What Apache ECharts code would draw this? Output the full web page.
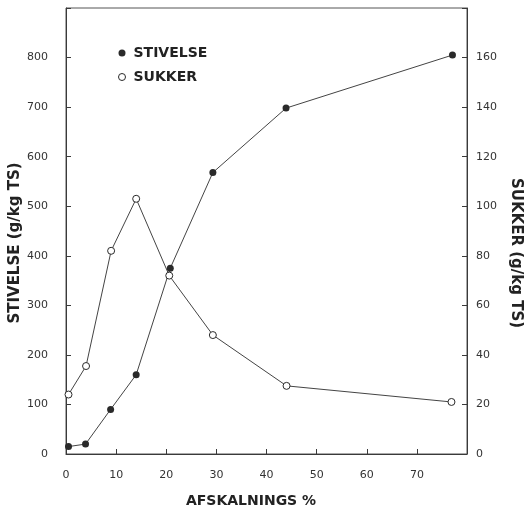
<!DOCTYPE html>
<html>
<head>
<meta charset="utf-8">
<script src="https://cdn.jsdelivr.net/npm/echarts@6/dist/echarts.min.js"></script>
<style>html,body{margin:0;padding:0;background:#fff}#c{width:527px;height:520px}</style>
</head>
<body>
<div id="c"></div>
<script>
const stivelseX = [0.5, 3.9, 8.9, 14, 20.8, 29.3, 43.9, 77.1];
const stivelseY = [15, 20, 90, 160, 375, 568, 698, 805];
const sukkerX = [0.5, 4, 9, 14, 20.6, 29.3, 44, 76.9];
const sukkerY = [24, 35.5, 82, 103, 72, 48, 27.5, 21];
const xTicks = [0, 10, 20, 30, 40, 50, 60, 70];
const leftTicks = [0, 100, 200, 300, 400, 500, 600, 700, 800];
const rightTicks = [0, 20, 40, 60, 80, 100, 120, 140, 160];

const chart = echarts.init(document.getElementById('c'));
const tickFont = {fontFamily: 'DejaVu Sans', fontSize: 11, color: '#333'};
const lineCol = '#3a3a3a';
function pairs(xs, ys){ return xs.map((x,i)=>[x, ys[i]]); }
chart.setOption({
  animation: false,
  backgroundColor: '#fff',
  grid: {left: 66, right: 60, top: 8, bottom: 66, show: true, borderColor: '#555', borderWidth: 1},
  legend: {
    orient: 'vertical', left: 113, top: 41, itemWidth: 7, itemHeight: 7, itemGap: 10,
    textStyle: {fontFamily: 'DejaVu Sans', fontWeight: 'bold', fontSize: 14, color: '#222', padding: [0, 0, 0, 3]},
    data: [{name: 'STIVELSE', icon: 'circle'},
           {name: 'SUKKER', icon: 'circle', itemStyle: {color: '#fff', borderColor: '#2a2a2a', borderWidth: 1}}]
  },
  xAxis: {
    type: 'value', min: 0, max: 80, interval: 10,
    axisLine: {lineStyle: {color: lineCol}},
    axisTick: {inside: true, length: 5, lineStyle: {color: lineCol}},
    splitLine: {show: false},
    axisLabel: Object.assign({margin: 16, formatter: v => xTicks.includes(v) ? String(v) : ''}, tickFont)
  },
  yAxis: [{
    type: 'value', min: 0, max: 900, interval: 100,
    axisLine: {show: true, lineStyle: {color: lineCol}},
    axisTick: {show: true, inside: true, length: 5, lineStyle: {color: lineCol}},
    splitLine: {show: false},
    axisLabel: Object.assign({margin: 18, formatter: v => leftTicks.includes(v) ? String(v) : ''}, tickFont)
  }, {
    type: 'value', min: 0, max: 180, interval: 20, position: 'right',
    axisLine: {show: true, lineStyle: {color: lineCol}},
    axisTick: {show: true, inside: true, length: 5, lineStyle: {color: lineCol}},
    splitLine: {show: false},
    axisLabel: Object.assign({margin: 9, formatter: v => rightTicks.includes(v) ? String(v) : ''}, tickFont)
  }],
  series: [{
    name: 'STIVELSE', type: 'line', yAxisIndex: 0, data: pairs(stivelseX, stivelseY),
    symbol: 'circle', symbolSize: 7,
    itemStyle: {color: '#2a2a2a'}, lineStyle: {color: '#444', width: 1}
  }, {
    name: 'SUKKER', type: 'line', yAxisIndex: 1, data: pairs(sukkerX, sukkerY),
    symbol: 'circle', symbolSize: 7,
    itemStyle: {color: '#fff', borderColor: '#2a2a2a', borderWidth: 1}, lineStyle: {color: '#444', width: 1}
  }],
  graphic: [
    {type: 'text', x: 15, y: 243, rotation: Math.PI/2,
     style: {text: 'STIVELSE (g/kg TS)', fontFamily: 'DejaVu Sans', fontWeight: 'bold', fontSize: 15, fill: '#222', align: 'center', verticalAlign: 'middle'}},
    {type: 'text', x: 516, y: 253, rotation: -Math.PI/2,
     style: {text: 'SUKKER (g/kg TS)', fontFamily: 'DejaVu Sans', fontWeight: 'bold', fontSize: 15, fill: '#222', align: 'center', verticalAlign: 'middle'}},
    {type: 'text', x: 251, y: 501,
     style: {text: 'AFSKALNINGS %', fontFamily: 'DejaVu Sans', fontWeight: 'bold', fontSize: 14, fill: '#222', align: 'center', verticalAlign: 'middle'}}
  ]
});
</script>
</body>
</html>
